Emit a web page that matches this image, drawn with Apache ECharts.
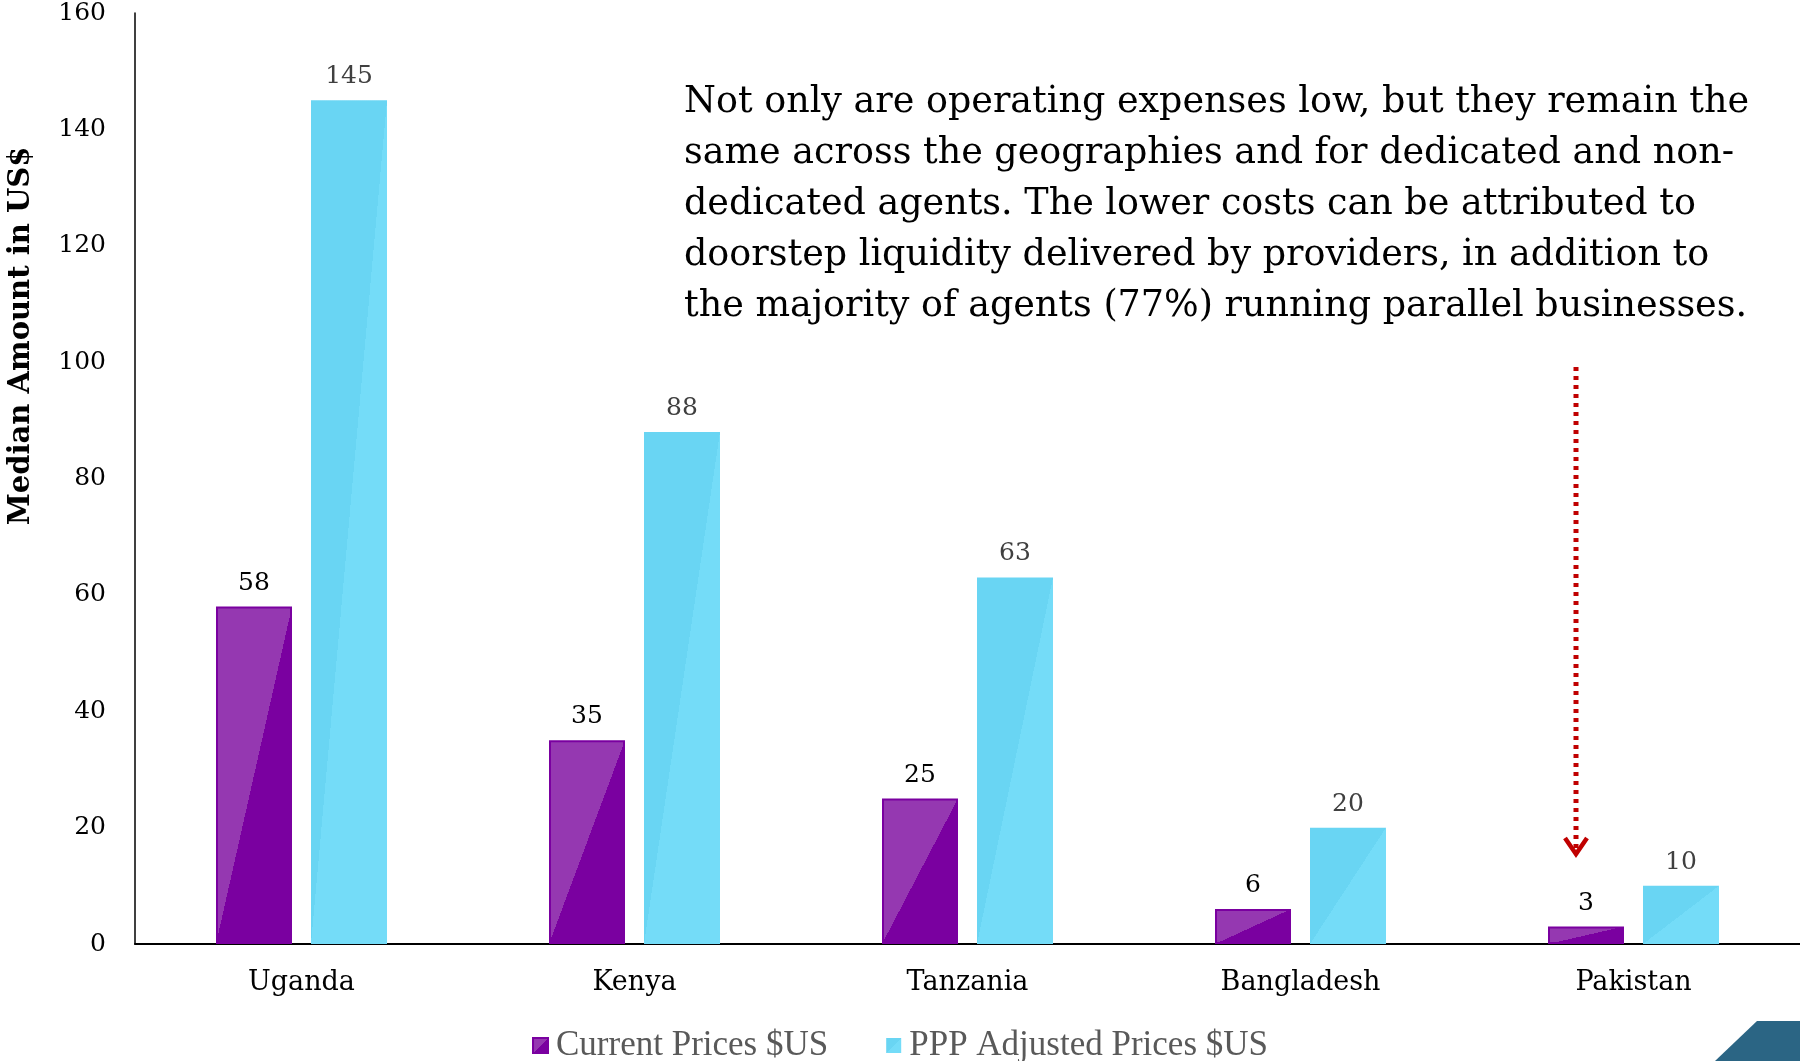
<!DOCTYPE html>
<html>
<head>
<meta charset="utf-8">
<script src="https://cdn.jsdelivr.net/npm/echarts@6/dist/echarts.min.js"></script>
<style>
  html, body { margin: 0; padding: 0; background: #fff; }
  #chart { width: 1800px; height: 1061px; }
</style>
</head>
<body>
<div id="chart"></div>
<script>
// data
var categories = ["Uganda", "Kenya", "Tanzania", "Bangladesh", "Pakistan"];
var currentPrices = [58, 35, 25, 6, 3];
var pppPrices = [145, 88, 63, 20, 10];
var seriesNames = ["Current Prices $US", "PPP Adjusted Prices $US"];
var yMin = 0, yMax = 160, yStep = 20;

var note = [
  "Not only are operating expenses low, but they remain the",
  "same across the geographies and for dedicated and non-",
  "dedicated agents. The lower costs can be attributed to",
  "doorstep liquidity delivered by providers, in addition to",
  "the majority of agents (77%) running parallel businesses."
].join("\n");

var serif = "DejaVu Serif";
var BAR_W = 76;
// [top-left colour, bottom-right colour] of the glossy diagonal split
var purple = ["#9538B1", "#7A00A0"];
var cyan = ["#69D5F3", "#74DCF8"];

// diagonal split from bottom-left to top-right corner of a w x h bar
function splitFill(pair, w, h) {
  var dy = (w / h) * (w / h);
  return new echarts.graphic.LinearGradient(0, 0.5 - dy / 2, 1, 0.5 + dy / 2, [
    { offset: 0, color: pair[0] },
    { offset: 0.5, color: pair[0] },
    { offset: 0.5, color: pair[1] },
    { offset: 1, color: pair[1] }
  ]);
}
function squareFill(pair) {
  return new echarts.graphic.LinearGradient(0, 0, 1, 1, [
    { offset: 0, color: pair[0] },
    { offset: 0.5, color: pair[0] },
    { offset: 0.5, color: pair[1] },
    { offset: 1, color: pair[1] }
  ]);
}

var chart = echarts.init(document.getElementById("chart"), null, { renderer: "canvas" });

var option = {
  animation: false,
  backgroundColor: "#fff",
  grid: { left: 135, right: 0, top: 13, bottom: 117, containLabel: false },
  legend: {
    bottom: -7,
    left: "center",
    itemWidth: 15,
    itemHeight: 15,
    itemGap: 58,
    icon: "rect",
    data: seriesNames,
    textStyle: { fontFamily: "Liberation Serif", fontSize: 35, color: "#595959", padding: [0, 0, 0, 3] }
  },
  xAxis: {
    type: "category",
    data: categories,
    axisLine: { lineStyle: { color: "#000", width: 2 } },
    axisTick: { show: false },
    axisLabel: { fontFamily: serif, fontSize: 27, color: "#000", margin: 25 }
  },
  yAxis: {
    type: "value",
    min: yMin,
    max: yMax,
    interval: yStep,
    splitLine: { show: false },
    axisTick: { show: false },
    axisLine: { show: true, lineStyle: { color: "#000", width: 1.5 } },
    axisLabel: { fontFamily: serif, fontSize: 25, color: "#000", margin: 29 }
  },
  series: [
    {
      name: seriesNames[0],
      type: "bar",
      barWidth: BAR_W,
      barGap: "25%",
      data: currentPrices,
      itemStyle: { color: squareFill(purple), borderColor: "#7A00A0", borderWidth: 2 },
      label: { show: true, position: "top", distance: 11, fontFamily: serif, fontSize: 25, color: "#000" }
    },
    {
      name: seriesNames[1],
      type: "bar",
      barWidth: BAR_W,
      data: pppPrices,
      itemStyle: { color: squareFill(cyan) },
      label: { show: true, position: "top", distance: 11, fontFamily: serif, fontSize: 25, color: "#404040" }
    }
  ],
  graphic: [
    {
      type: "text",
      x: 21, y: 336, rotation: Math.PI / 2,
      style: {
        text: "Median Amount in US$",
        font: "bold 29px 'DejaVu Serif'",
        fill: "#000",
        align: "center",
        verticalAlign: "middle"
      }
    },
    {
      type: "text",
      x: 684, y: 77,
      style: {
        text: note,
        font: "36.5px 'DejaVu Serif'",
        lineHeight: 51,
        fill: "#000",
        align: "left",
        verticalAlign: "top"
      }
    },
    {
      type: "line",
      shape: { x1: 1576, y1: 367, x2: 1576, y2: 848 },
      style: { stroke: "#C00000", lineWidth: 5, lineDash: [4, 5] }
    },
    {
      type: "polyline",
      shape: { points: [[1565, 838], [1576, 854], [1587, 838]] },
      style: { stroke: "#C00000", lineWidth: 4.5, fill: null }
    },
    {
      type: "polygon",
      shape: { points: [[1715, 1061], [1757, 1021], [1800, 1021], [1800, 1061]] },
      style: { fill: "#2B6584" }
    }
  ]
};

chart.setOption(option);

// now that the scale exists, give each bar its own diagonal split
var base = chart.convertToPixel({ yAxisIndex: 0 }, 0);
function styled(values, pair) {
  return values.map(function (v) {
    var h = Math.max(1, base - chart.convertToPixel({ yAxisIndex: 0 }, v));
    return { value: v, itemStyle: { color: splitFill(pair, BAR_W, h) } };
  });
}
chart.setOption({
  series: [
    { data: styled(currentPrices, purple) },
    { data: styled(pppPrices, cyan) }
  ]
});
</script>
</body>
</html>
